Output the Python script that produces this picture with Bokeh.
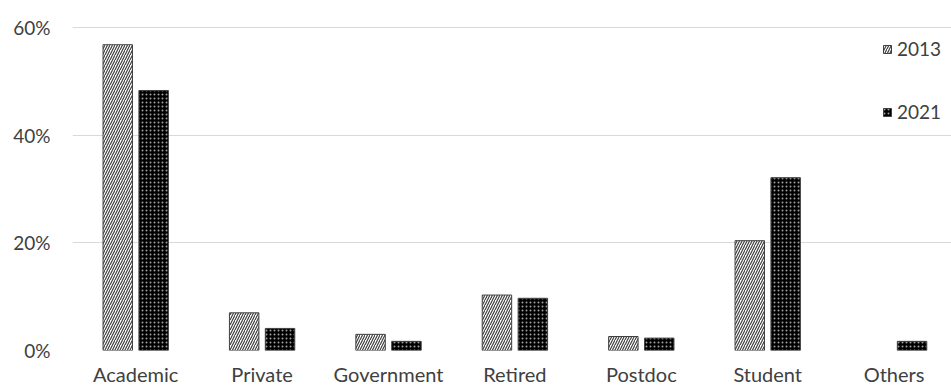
import numpy as np
from bokeh.plotting import figure
from bokeh.models import Range1d, FixedTicker, ColumnDataSource, Legend, LegendItem, NumeralTickFormatter
from bokeh.embed import file_html
from bokeh.resources import INLINE

categories = ["Academic", "Private", "Government", "Retired", "Postdoc", "Student", "Others"]
values_2013 = [0.568, 0.070, 0.030, 0.103, 0.026, 0.204, float("nan")]
values_2021 = [0.483, 0.041, 0.017, 0.097, 0.023, 0.321, 0.017]
y_ticks = [0.0, 0.2, 0.4, 0.6]

FONT = "Lato"
TXT = "#404040"

n = len(categories)
centers = np.arange(n) + 0.5
src = ColumnDataSource(dict(
    x13=centers - 0.142, x21=centers + 0.142,
    v13=values_2013, v21=values_2021,
))

p = figure(width=951, height=388, output_backend="svg", toolbar_location=None,
           x_range=Range1d(0, 6.954), y_range=Range1d(0, 0.6093),
           min_border_left=72, min_border_right=0, min_border_top=22, min_border_bottom=38)
p.outline_line_color = None
p.background_fill_color = "white"
p.border_fill_color = "white"

r13 = p.vbar(x="x13", top="v13", width=0.233, source=src, fill_color="white",
             line_color="#404040", line_width=1, hatch_pattern="/", hatch_color="#404040",
             hatch_scale=5, hatch_weight=1.2)
r21 = p.vbar(x="x21", top="v21", width=0.233, source=src, fill_color="black",
             line_color="#404040", line_width=1, hatch_pattern=".", hatch_color="#a0a0a0",
             hatch_scale=4, hatch_weight=1)

p.xgrid.grid_line_color = None
p.ygrid.grid_line_color = "#d9d9d9"
p.ygrid.grid_line_width = 1
p.ygrid.ticker = FixedTicker(ticks=y_ticks)

p.yaxis.ticker = FixedTicker(ticks=y_ticks)
p.yaxis.formatter = NumeralTickFormatter(format="0%")
p.yaxis.axis_line_color = None
p.yaxis.major_tick_line_color = None
p.yaxis.minor_tick_line_color = None
p.yaxis.major_tick_out = 0
p.yaxis.major_tick_in = 0
p.yaxis.minor_tick_out = 0
p.yaxis.major_label_standoff = 22
p.yaxis.major_label_text_font = FONT
p.yaxis.major_label_text_font_size = "19px"
p.yaxis.major_label_text_color = TXT

p.xaxis.ticker = FixedTicker(ticks=list(centers))
p.xaxis.major_label_overrides = {float(c): lab for c, lab in zip(centers, categories)}
p.xaxis.axis_line_color = None
p.xaxis.major_tick_line_color = None
p.xaxis.minor_tick_line_color = None
p.xaxis.major_tick_out = 0
p.xaxis.major_tick_in = 0
p.xaxis.minor_tick_out = 0
p.xaxis.major_label_standoff = 11
p.xaxis.major_label_text_font = FONT
p.xaxis.major_label_text_font_size = "20px"
p.xaxis.major_label_text_color = TXT

legend = Legend(items=[LegendItem(label="2013", renderers=[r13]),
                       LegendItem(label="2021", renderers=[r21])],
                location=(810, 227), orientation="vertical",
                glyph_width=10, glyph_height=10, label_standoff=5, spacing=40,
                padding=0, margin=0, border_line_color=None, background_fill_alpha=0,
                label_text_font=FONT, label_text_font_size="19px", label_text_color=TXT,
                label_height=20)
p.add_layout(legend)

open("out.html", "w").write(file_html(p, INLINE))
